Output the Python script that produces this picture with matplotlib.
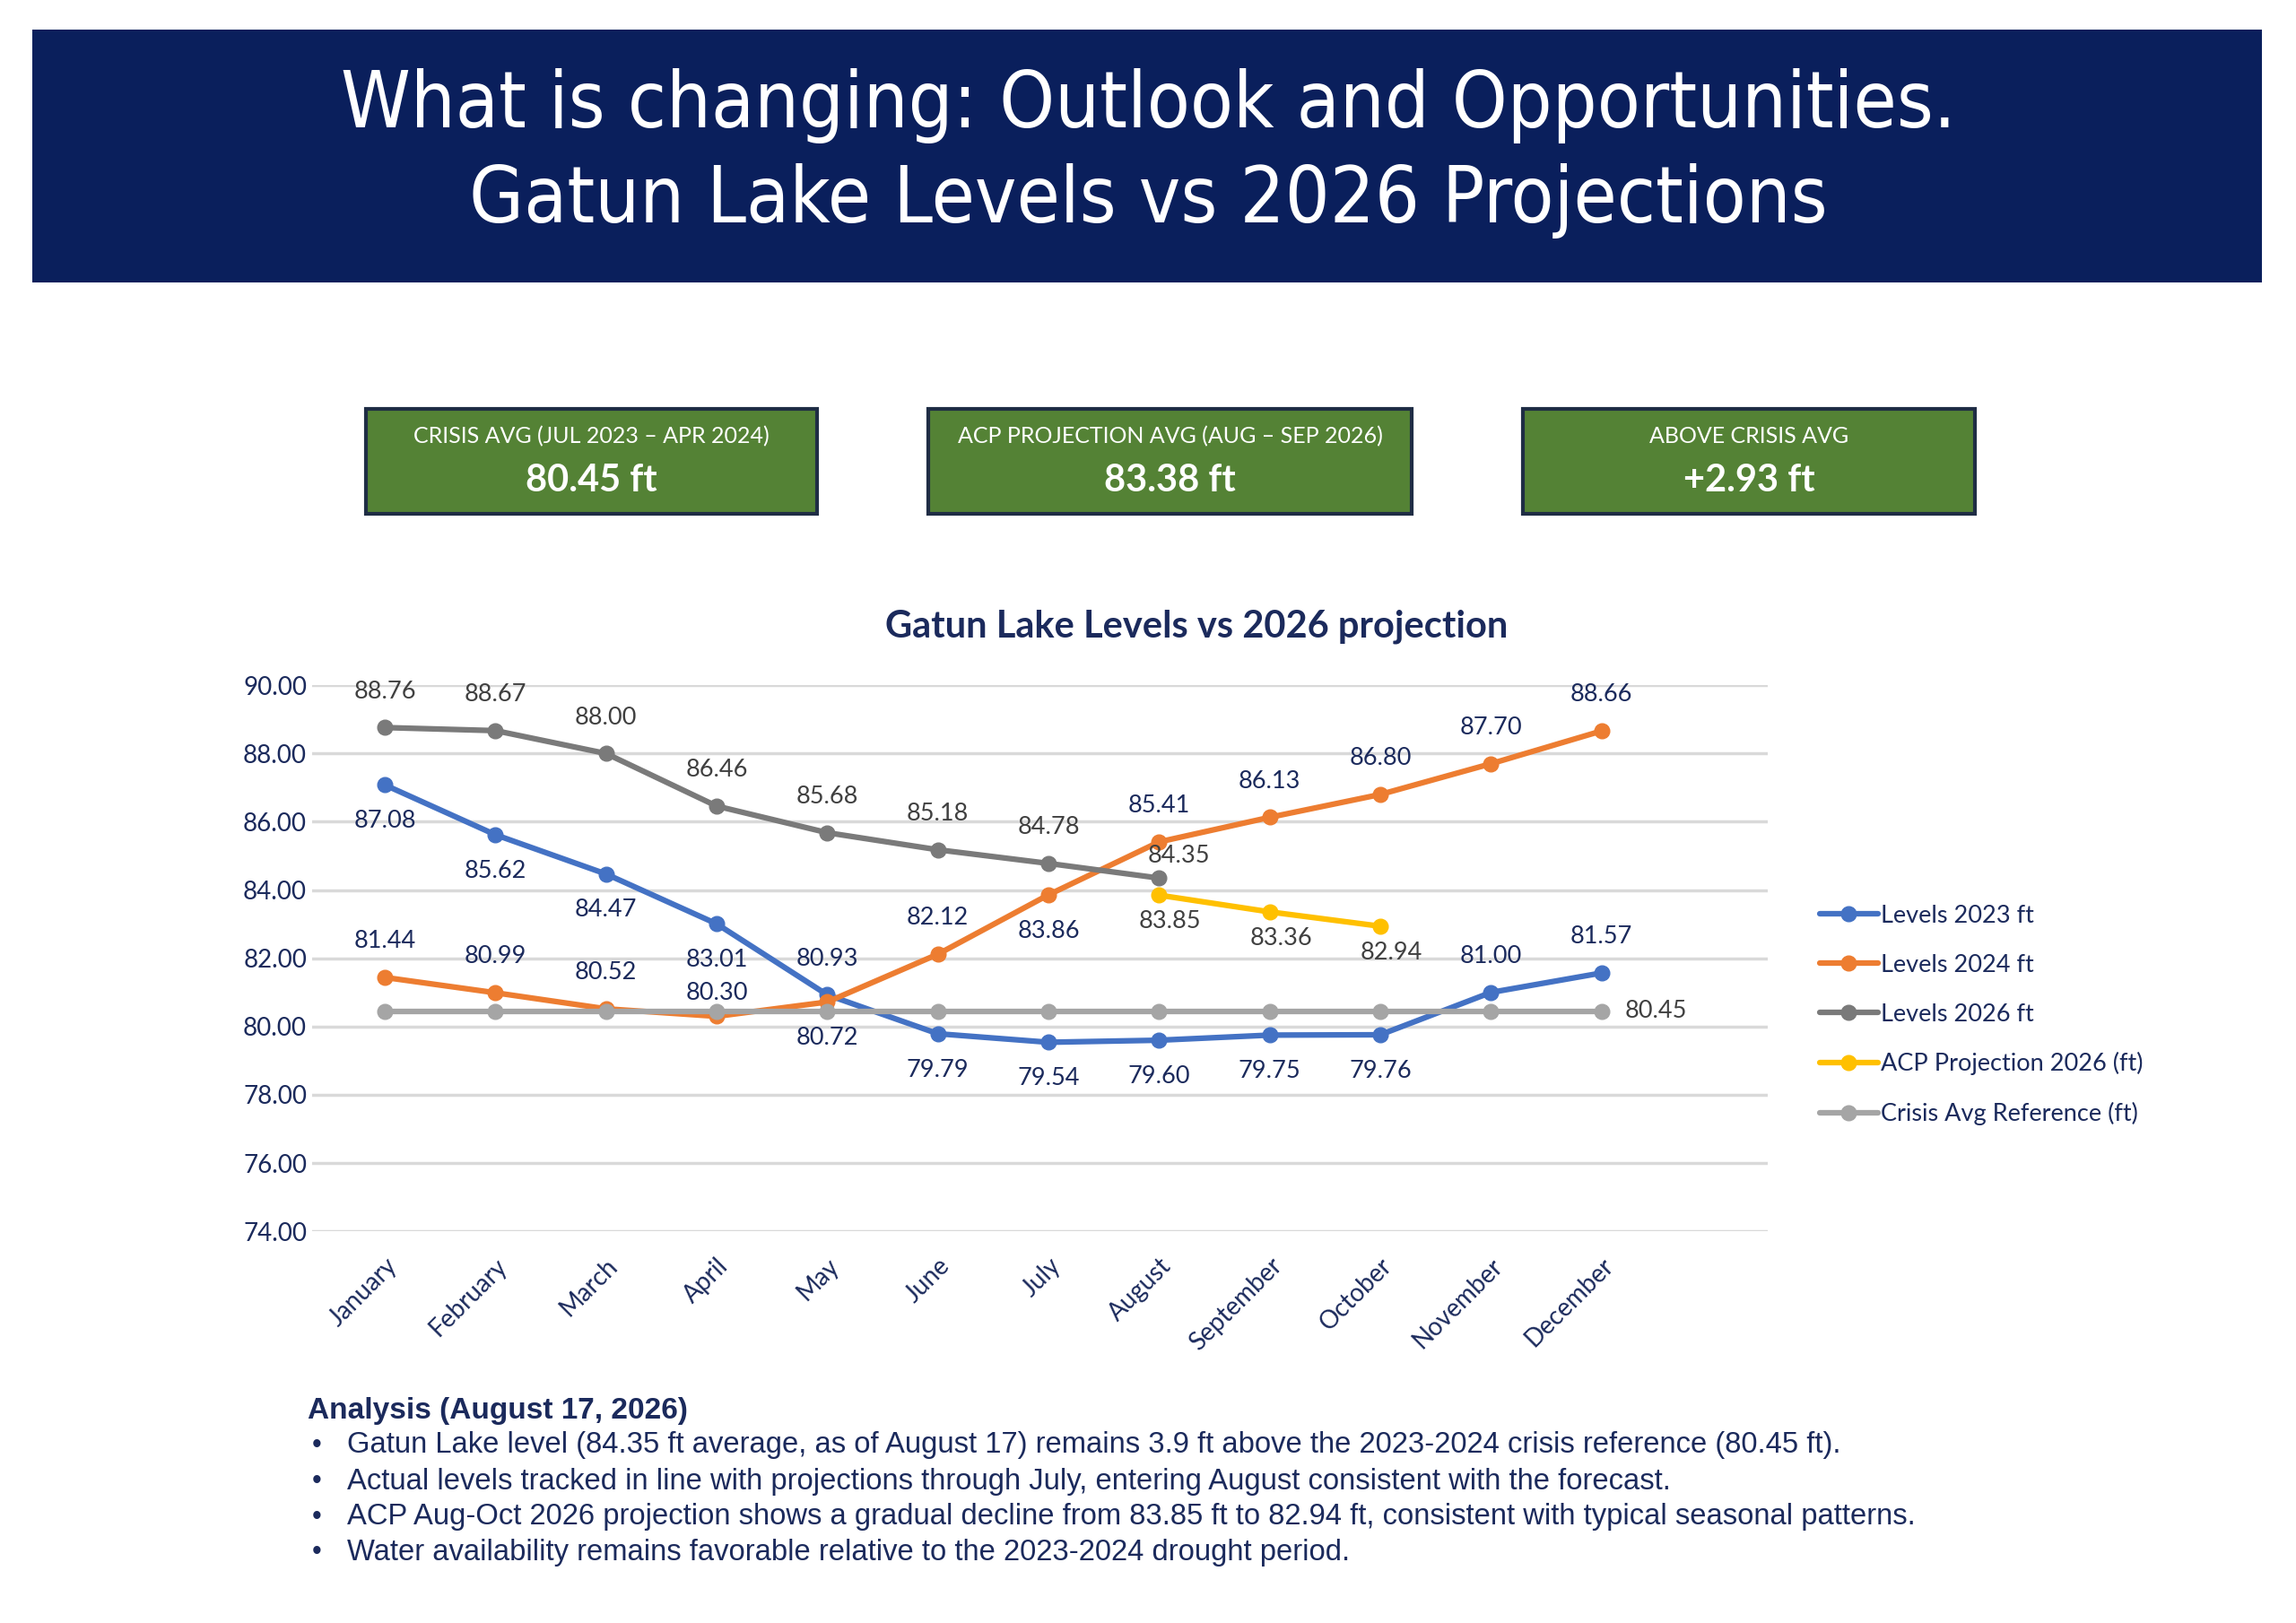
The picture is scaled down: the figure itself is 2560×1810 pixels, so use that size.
import matplotlib
matplotlib.use('Agg')
import matplotlib.pyplot as plt
from matplotlib.patches import Rectangle

# DATA
months = ['January', 'February', 'March', 'April', 'May', 'June', 'July',
          'August', 'September', 'October', 'November', 'December']
levels_2023 = [87.08, 85.62, 84.47, 83.01, 80.93, 79.79, 79.54, 79.60, 79.75, 79.76, 81.00, 81.57]
levels_2024 = [81.44, 80.99, 80.52, 80.30, 80.72, 82.12, 83.86, 85.41, 86.13, 86.80, 87.70, 88.66]
levels_2026 = [88.76, 88.67, 88.00, 86.46, 85.68, 85.18, 84.78, 84.35]
acp_months = ['August', 'September', 'October']
acp_2026 = [83.85, 83.36, 82.94]
crisis_avg = 80.45

kpi_labels = ['CRISIS AVG (JUL 2023 \u2013 APR 2024)', 'ACP PROJECTION AVG (AUG \u2013 SEP 2026)', 'ABOVE CRISIS AVG']
kpi_values = ['80.45 ft', '83.38 ft', '+2.93 ft']

analysis_title = 'Analysis (August 17, 2026)'
analysis_lines = [
    'Gatun Lake level (84.35 ft average, as of August 17) remains 3.9 ft above the 2023-2024 crisis reference (80.45 ft).',
    'Actual levels tracked in line with projections through July, entering August consistent with the forecast.',
    'ACP Aug-Oct 2026 projection shows a gradual decline from 83.85 ft to 82.94 ft, consistent with typical seasonal patterns.',
    'Water availability remains favorable relative to the 2023-2024 drought period.',
]

# STYLE
NAVY = '#0A1F5C'
TXT = '#1B2A5C'
DGRAY = '#404040'
GREEN = '#548235'
C23, C24, C26, CACP, CCRI = '#4472C4', '#ED7D31', '#7A7A7A', '#FFC000', '#A5A5A5'
chart_font = ['Lato', 'DejaVu Sans']
body_font = ['Liberation Sans', 'DejaVu Sans']

# data label offsets (points)
UP, DN = 29, -29
off_2023 = [DN, DN, DN, DN, UP, DN, DN, DN, DN, DN, UP, UP]
off_2024 = [UP, UP, UP, 19, DN, UP, DN, UP, UP, UP, UP, UP]

fig = plt.figure(figsize=(25.6, 18.1), dpi=100)

# banner
fig.patches.append(Rectangle((0.014, 0.826), 0.971, 0.156, transform=fig.transFigure,
                             facecolor=NAVY, edgecolor='none'))
title_kw = dict(ha='center', va='center', color='white', fontsize=63,
                family=['DejaVu Sans'], fontstretch='condensed')
fig.text(0.5, 0.935, 'What is changing: Outlook and Opportunities.', **title_kw)
fig.text(0.5, 0.876, 'Gatun Lake Levels vs 2026 Projections', **title_kw)

# KPI boxes
box_x = [(0.1594, 0.3559), (0.4043, 0.6148), (0.6633, 0.8603)]
for (x0, x1), lab, val in zip(box_x, kpi_labels, kpi_values):
    fig.patches.append(Rectangle((x0, 0.6833), x1 - x0, 0.0649, transform=fig.transFigure,
                                 facecolor=GREEN, edgecolor='#1F2D45', linewidth=3))
    xc = (x0 + x1) / 2
    fig.text(xc, 0.731, lab, ha='center', va='center', color='white', fontsize=18, family=chart_font)
    fig.text(xc, 0.704, val, ha='center', va='center', color='white', fontsize=30,
             fontweight='bold', family=chart_font)

# chart
fig.text(0.521, 0.614, 'Gatun Lake Levels vs 2026 projection', ha='center', va='center',
         color=TXT, fontsize=30, fontweight='bold', family=chart_font)

ax = fig.add_axes([0.1358, 0.2413, 0.634, 0.3365])
x = list(range(len(months)))
x_acp = [months.index(m) for m in acp_months]

kw = dict(marker='o', markersize=12, linewidth=4.5, solid_capstyle='round')
ax.plot(x, levels_2023, color=C23, label='Levels 2023 ft', **kw)
ax.plot(x, levels_2024, color=C24, label='Levels 2024 ft', **kw)
ax.plot(x[:len(levels_2026)], levels_2026, color=C26, label='Levels 2026 ft', **kw)
ax.plot(x_acp, acp_2026, color=CACP, label='ACP Projection 2026 (ft)', **kw)
ax.plot(x, [crisis_avg] * len(x), color=CCRI, label='Crisis Avg Reference (ft)', **kw)

lab_kw = dict(textcoords='offset points', ha='center', va='center', fontsize=19.5, family=chart_font)
for xi, v, dy in zip(x, levels_2023, off_2023):
    ax.annotate(f'{v:.2f}', (xi, v), xytext=(0, dy), color=TXT, **lab_kw)
for xi, v, dy in zip(x, levels_2024, off_2024):
    ax.annotate(f'{v:.2f}', (xi, v), xytext=(0, dy), color=TXT, **lab_kw)
for i, v in enumerate(levels_2026):
    if i == len(levels_2026) - 1:
        ax.annotate(f'{v:.2f}', (x[i], v), xytext=(16, 18), color=DGRAY, **lab_kw)
    else:
        ax.annotate(f'{v:.2f}', (x[i], v), xytext=(0, UP), color=DGRAY, **lab_kw)
for xi, v in zip(x_acp, acp_2026):
    ax.annotate(f'{v:.2f}', (xi, v), xytext=(9, -21), color=DGRAY, **lab_kw)
ax.annotate(f'{crisis_avg:.2f}', (x[-1], crisis_avg), xytext=(44, 0), color=DGRAY, **lab_kw)

ax.set_xlim(-0.66, 12.5)
ax.set_ylim(74, 90)
ax.set_yticks(range(74, 91, 2))
ax.set_yticklabels([f'{v:.2f}' for v in range(74, 91, 2)], fontsize=20, color=TXT, family=chart_font)
ax.set_xticks(x)
ax.set_xticklabels(months, rotation=45, ha='right', va='top', rotation_mode='anchor',
                   fontsize=20, color=TXT, family=chart_font)
ax.tick_params(axis='both', length=0)
ax.tick_params(axis='x', pad=18)
ax.tick_params(axis='y', pad=4)
ax.grid(True, axis='y', color='#D9D9D9', linewidth=2.5)
ax.set_axisbelow(True)
for s in ax.spines.values():
    s.set_visible(False)

fig.legend(loc='center left', bbox_to_anchor=(0.783, 0.3745), frameon=False,
           prop={'family': chart_font, 'size': 19.5}, labelcolor=TXT,
           handlelength=2.4, handletextpad=0.1, labelspacing=1.1)

# analysis notes
fig.text(0.134, 0.1305, analysis_title, ha='left', va='center', color=TXT, fontsize=24,
         fontweight='bold', family=body_font)
for yy, line in zip([0.1095, 0.0872, 0.0652, 0.0435], analysis_lines):
    fig.text(0.1358, yy, '\u2022', ha='left', va='center', color=TXT, fontsize=22, family=body_font)
    fig.text(0.1511, yy, line, ha='left', va='center', color=TXT, fontsize=23.6, family=body_font)

fig.savefig('out.png', dpi=100, facecolor='white')
